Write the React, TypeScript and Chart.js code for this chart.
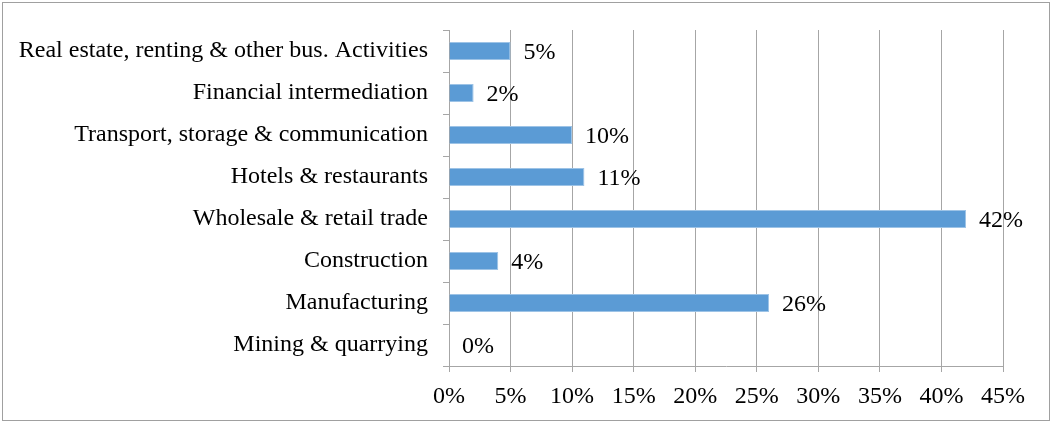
import React, { useEffect, useRef } from "react";
import { Chart, registerables } from "chart.js";

Chart.register(...registerables);

const categories = [
  "Real estate, renting & other bus. Activities",
  "Financial intermediation",
  "Transport, storage & communication",
  "Hotels & restaurants",
  "Wholesale & retail trade",
  "Construction",
  "Manufacturing",
  "Mining & quarrying",
];
const values = [5, 2, 10, 11, 42, 4, 26, 0];
const xTicks = [0, 5, 10, 15, 20, 25, 30, 35, 40, 45];

const FONT = "'Liberation Serif', 'Times New Roman', serif";
const FONT_SIZE = 24;

const valueLabels = {
  id: "valueLabels",
  afterDatasetsDraw(chart: any) {
    const ctx = chart.ctx;
    const meta = chart.getDatasetMeta(0);
    ctx.save();
    ctx.font = `${FONT_SIZE}px ${FONT}`;
    ctx.fillStyle = "#000";
    ctx.textAlign = "left";
    ctx.textBaseline = "middle";
    meta.data.forEach((el: any, i: number) => {
      ctx.fillText(`${values[i]}%`, el.x + 13, el.y + 2);
    });
    ctx.restore();
  },
};

export default function App() {
  const ref = useRef<HTMLCanvasElement>(null);
  useEffect(() => {
    const chart = new Chart(ref.current!, {
      type: "bar",
      data: {
        labels: categories,
        datasets: [
          {
            data: values,
            backgroundColor: "#5B9BD5",
            borderColor: "#9DC3E6",
            borderWidth: 1,
            categoryPercentage: 1,
            barPercentage: 0.43,
          },
        ],
      },
      options: {
        indexAxis: "y",
        animation: false,
        responsive: false,
        layout: { padding: { top: 30, right: 51, bottom: 0, left: 0 } },
        plugins: { legend: { display: false }, tooltip: { enabled: false } },
        scales: {
          x: {
            min: 0,
            max: 45,
            afterBuildTicks(scale: any) {
              scale.ticks = xTicks.map((v) => ({ value: v }));
            },
            afterFit(scale: any) {
              scale.height = 57;
            },
            grid: { color: "#a6a6a6", tickLength: 6, lineWidth: 1 },
            border: { color: "#a6a6a6" },
            ticks: {
              padding: 10,
              color: "#000",
              font: { family: FONT, size: FONT_SIZE },
              callback: (v: any) => `${v}%`,
            },
          },
          y: {
            afterFit(scale: any) {
              scale.width = 449;
            },
            grid: { drawOnChartArea: false, color: "#a6a6a6", tickLength: 6, offset: true },
            border: { color: "#a6a6a6" },
            ticks: {
              padding: 15,
              color: "#000",
              font: { family: FONT, size: FONT_SIZE },
            },
          },
        },
      },
      plugins: [valueLabels],
    });
    return () => chart.destroy();
  }, []);
  return (
    <div style={{ position: "absolute", left: 0, top: 0, width: 1054, height: 423, background: "#fff" }}>
      <div
        style={{
          position: "absolute",
          left: 2,
          top: 2,
          width: 1046,
          height: 417,
          border: "1px solid #a0a0a0",
        }}
      />
      <canvas ref={ref} width={1054} height={423} style={{ position: "absolute", left: 0, top: 0 }} />
    </div>
  );
}
